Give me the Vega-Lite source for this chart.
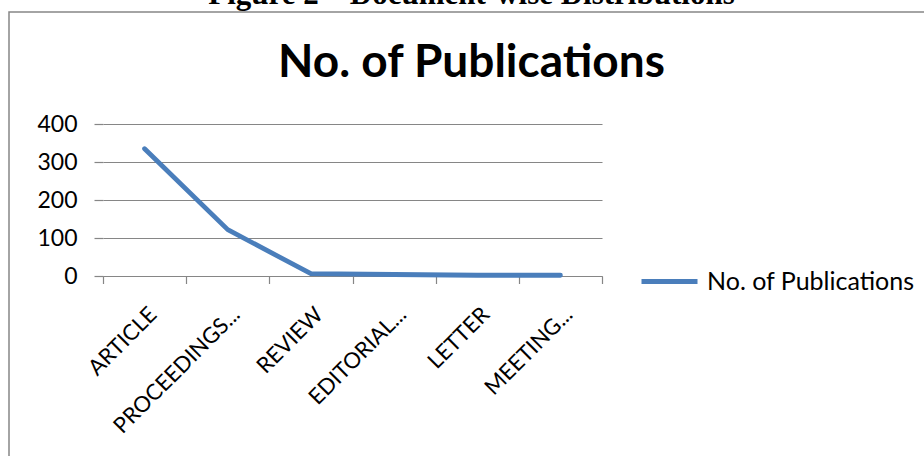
{
  "$schema": "https://vega.github.io/schema/vega-lite/v6.json",
  "width": 925,
  "height": 454,
  "autosize": {"type": "none"},
  "padding": {"left": 9, "top": 12, "right": -10, "bottom": -10},
  "background": "white",
  "title": {
    "text": "Figure 2 – Document-wise Distributions",
    "subtitle": "No. of Publications",
    "anchor": "middle",
    "frame": "group",
    "orient": "top",
    "offset": -75,
    "font": "Liberation Serif",
    "fontSize": 31,
    "fontWeight": "bold",
    "color": "black",
    "subtitleFont": "Lato",
    "subtitleFontSize": 46,
    "subtitleFontWeight": "bold",
    "subtitleColor": "black",
    "subtitlePadding": 30
  },
  "data": {
    "values": [
      {"type": "ARTICLE", "count": 335, "series": "No. of Publications"},
      {"type": "PROCEEDINGS...", "count": 122, "series": "No. of Publications"},
      {"type": "REVIEW", "count": 6, "series": "No. of Publications"},
      {"type": "EDITORIAL...", "count": 4, "series": "No. of Publications"},
      {"type": "LETTER", "count": 2, "series": "No. of Publications"},
      {"type": "MEETING...", "count": 2, "series": "No. of Publications"}
    ]
  },
  "mark": {"type": "line", "strokeWidth": 4.8, "strokeCap": "round", "strokeJoin": "round"},
  "encoding": {
    "x": {
      "field": "type",
      "type": "nominal",
      "sort": null,
      "scale": {"type": "band", "range": [94, 593], "paddingInner": 0, "paddingOuter": 0},
      "axis": {
        "title": null,
        "offset": -190,
        "domain": true,
        "domainColor": "#868686",
        "domainWidth": 1.2,
        "ticks": true,
        "tickBand": "extent",
        "tickColor": "#868686",
        "tickWidth": 1.2,
        "tickSize": 7.5,
        "grid": false,
        "labelAngle": -45,
        "labelAlign": "right",
        "labelBaseline": "top",
        "labelPadding": 20,
        "labelOffset": 1,
        "labelFont": "Lato",
        "labelFontSize": 22,
        "labelColor": "black",
        "labelLimit": 300
      }
    },
    "y": {
      "field": "count",
      "type": "quantitative",
      "scale": {"domain": [0, 400], "range": [264, 112], "nice": false, "zero": true},
      "axis": {
        "title": null,
        "offset": -94,
        "values": [0, 100, 200, 300, 400],
        "domain": false,
        "ticks": true,
        "tickColor": "#868686",
        "tickWidth": 1.2,
        "tickSize": 9,
        "grid": true,
        "gridColor": "#868686",
        "gridWidth": 1.2,
        "labelPadding": 17,
        "labelFont": "Lato",
        "labelFontSize": 23,
        "labelColor": "black"
      }
    },
    "color": {
      "field": "series",
      "type": "nominal",
      "scale": {"range": ["#4A7EBB"]},
      "legend": {
        "title": null,
        "orient": "none",
        "legendX": 630,
        "legendY": 239,
        "padding": 0,
        "symbolType": "stroke",
        "symbolSize": 3136,
        "symbolStrokeWidth": 4.8,
        "labelFont": "Lato",
        "labelFontSize": 25,
        "labelColor": "black",
        "labelOffset": 7,
        "labelLimit": 400
      }
    }
  },
  "config": {
    "font": "Lato",
    "view": {"stroke": "#868686", "strokeWidth": 1.5}
  }
}
